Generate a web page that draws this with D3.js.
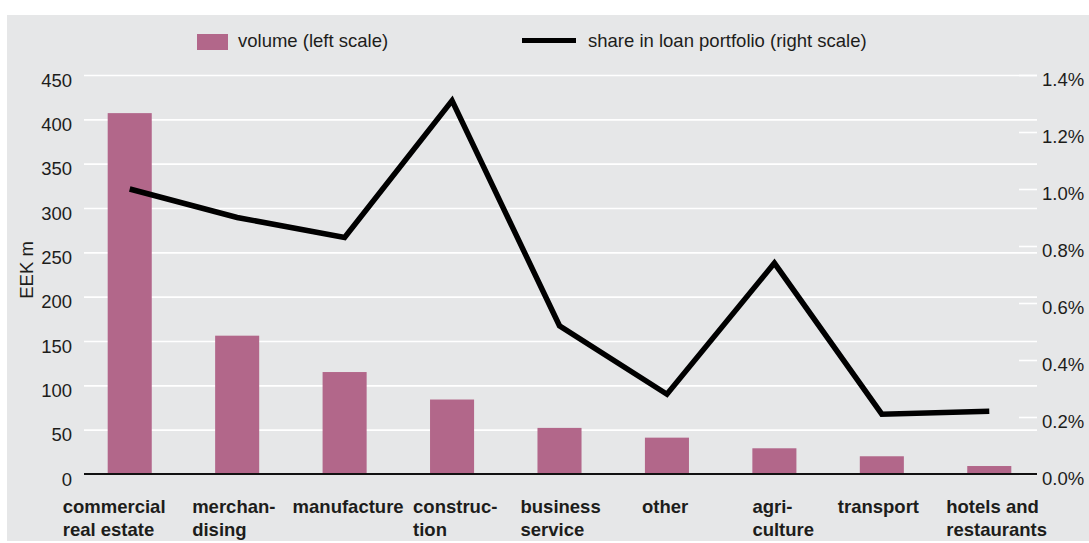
<!DOCTYPE html>
<html>
<head>
<meta charset="utf-8">
<script src="https://cdn.jsdelivr.net/npm/d3@7"></script>
<style>
  html, body { margin: 0; padding: 0; background: #ffffff; }
  svg { display: block; font-family: "Liberation Sans", Arial, Helvetica, sans-serif; }
</style>
</head>
<body>
<svg id="chart" width="1089" height="543"></svg>
<script>
// Sectors
const categories = [
  "commercial real estate", "merchandising", "manufacture", "construction",
  "business service", "other", "agriculture", "transport", "hotels and restaurants"
];
// Axis labels as printed (hyphenated / wrapped)
const categoryLabels = [
  ["commercial", "real estate"], ["merchan-", "dising"], ["manufacture"], ["construc-", "tion"],
  ["business", "service"], ["other"], ["agri-", "culture"], ["transport"], ["hotels and", "restaurants"]
];
// Volume, EEK m (left scale)
const volume = [407, 156, 115, 84, 52, 41, 29, 20, 9];
// Share in loan portfolio, % (right scale)
const share = [1.00, 0.90, 0.83, 1.31, 0.52, 0.28, 0.74, 0.21, 0.22];
// Tick values
const leftTicks = [0, 50, 100, 150, 200, 250, 300, 350, 400, 450];
const rightTicks = [0, 0.2, 0.4, 0.6, 0.8, 1.0, 1.2, 1.4];
const legendLabels = ["volume (left scale)", "share in loan portfolio (right scale)"];
const yTitle = "EEK m";

// Layout
const plotLeft = 84, plotRight = 1037, plotTop = 75, plotBottom = 474;
const barColor = "#b2678a";
const bgColor = "#e6e7e8";
const textColor = "#1d1d1b";
const fontSize = 18.5;
// Left edge of each category label block, relative to its band centre
const labelDx = [-67, -45, -52, -39, -39, -25, -22, -44, -43];

const svg = d3.select("#chart");

svg.append("rect")
  .attr("x", 7).attr("y", 15)
  .attr("width", 1089 - 7).attr("height", 541 - 15)
  .attr("fill", bgColor);

const x = d3.scaleBand()
  .domain(categories)
  .range([76, 1043])
  .paddingInner(0.59)
  .paddingOuter(0.295);

const yL = d3.scaleLinear().domain([0, 450]).range([plotBottom, plotTop]);
const yR = d3.scaleLinear().domain([0, 1.4]).range([plotBottom, plotTop]);

// Horizontal grid (left scale)
const gridAxis = d3.axisLeft(yL)
  .tickValues(leftTicks.filter(d => d > 0))
  .tickSize(-(plotRight - plotLeft))
  .tickFormat("");
const grid = svg.append("g")
  .attr("transform", `translate(${plotLeft},0)`)
  .call(gridAxis);
grid.select(".domain").remove();
grid.selectAll(".tick line").attr("stroke", "#ffffff").attr("stroke-width", 1.6);

// Left tick labels
const leftAxis = svg.append("g")
  .attr("transform", `translate(${plotLeft},0)`)
  .call(d3.axisLeft(yL).tickValues(leftTicks).tickSize(0).tickPadding(12).tickFormat(d3.format("d")));
leftAxis.select(".domain").remove();
leftAxis.selectAll(".tick text")
  .attr("font-size", fontSize)
  .attr("font-family", "Liberation Sans, Arial, sans-serif")
  .attr("fill", textColor)
  .attr("dy", 11);

// Right axis: short white ticks and percentage labels
const rightAxis = svg.append("g")
  .attr("transform", `translate(${plotRight},0)`)
  .call(d3.axisRight(yR).tickValues(rightTicks).tickSize(0).tickPadding(5)
    .tickFormat(d => d3.format(".1f")(d) + "%"));
rightAxis.select(".domain").remove();
rightAxis.selectAll(".tick line")
  .attr("x1", -18).attr("x2", 0)
  .attr("stroke", "#ffffff").attr("stroke-width", 1.6);
rightAxis.selectAll(".tick text")
  .attr("font-size", fontSize)
  .attr("font-family", "Liberation Sans, Arial, sans-serif")
  .attr("fill", textColor)
  .attr("dy", 10);

// Bars
svg.append("g").selectAll("rect")
  .data(volume)
  .join("rect")
  .attr("x", (d, i) => x(categories[i]))
  .attr("y", d => yL(d))
  .attr("width", x.bandwidth())
  .attr("height", d => yL(0) - yL(d))
  .attr("fill", barColor);

// Zero line
svg.append("line")
  .attr("x1", plotLeft).attr("x2", plotRight)
  .attr("y1", yL(0)).attr("y2", yL(0))
  .attr("stroke", "#111111").attr("stroke-width", 2);

// Share line
const line = d3.line()
  .x((d, i) => x(categories[i]) + x.bandwidth() / 2)
  .y(d => yR(d));
svg.append("path")
  .datum(share)
  .attr("d", line)
  .attr("fill", "none")
  .attr("stroke", "#000000")
  .attr("stroke-width", 5.5)
  .attr("stroke-linejoin", "miter")
  .attr("stroke-miterlimit", 10);

// Category labels
const labels = svg.append("g")
  .attr("font-size", fontSize)
  .attr("font-weight", "bold")
  .attr("fill", textColor);
categoryLabels.forEach((lines, i) => {
  const cx = x(categories[i]) + x.bandwidth() / 2 + labelDx[i];
  const t = labels.append("text").attr("x", cx).attr("y", 513);
  lines.forEach((s, j) => {
    t.append("tspan").attr("x", cx).attr("dy", j === 0 ? 0 : 22.5).text(s);
  });
});

// Y axis title
svg.append("text")
  .attr("transform", "translate(32.5,270) rotate(-90)")
  .attr("text-anchor", "middle")
  .attr("font-size", fontSize)
  .attr("fill", textColor)
  .text(yTitle);

// Legend
const legend = svg.append("g").attr("font-size", fontSize).attr("fill", textColor);
legend.append("rect")
  .attr("x", 197).attr("y", 34).attr("width", 31).attr("height", 16)
  .attr("fill", barColor);
legend.append("text").attr("x", 238).attr("y", 47).text(legendLabels[0]);
legend.append("line")
  .attr("x1", 522).attr("x2", 576).attr("y1", 40.5).attr("y2", 40.5)
  .attr("stroke", "#000000").attr("stroke-width", 5);
legend.append("text").attr("x", 588).attr("y", 47).text(legendLabels[1]);
</script>
</body>
</html>
